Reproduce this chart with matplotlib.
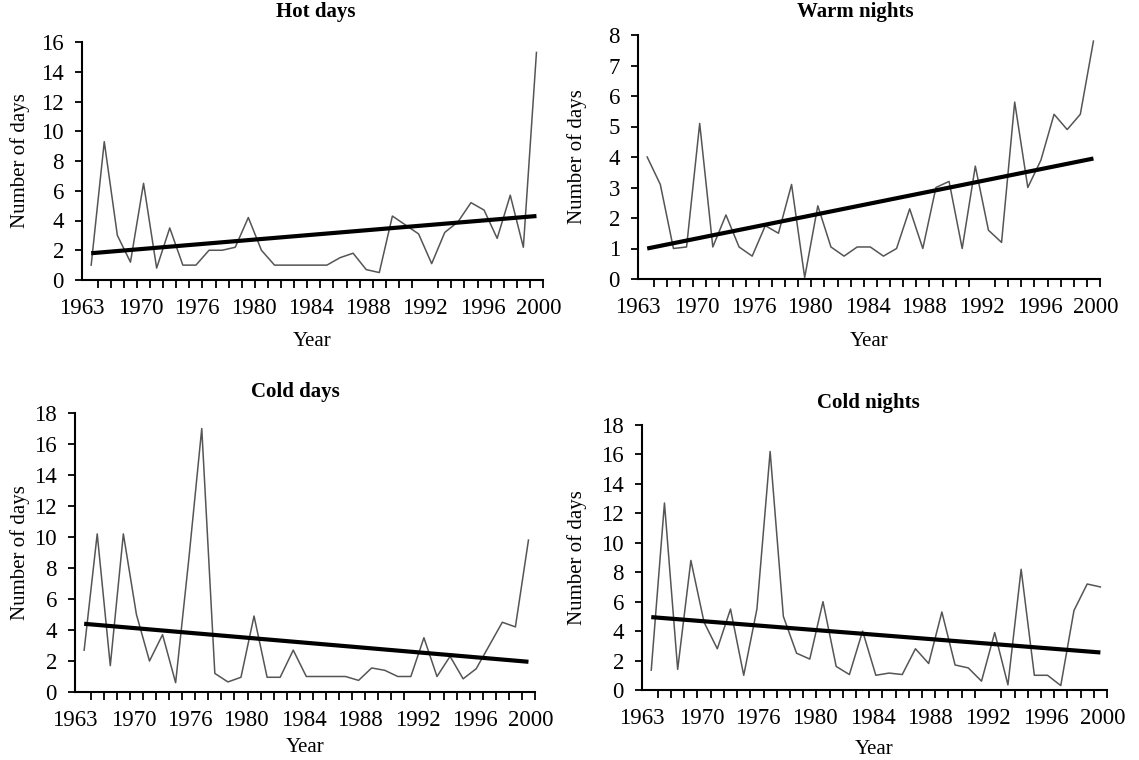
import numpy as np
import matplotlib
matplotlib.use("Agg")
import matplotlib.pyplot as plt

# annual counts (35 points per series)
hot_days = [1.0, 9.3, 3.0, 1.2, 6.5, 0.8, 3.5, 1.0, 1.0, 2.0, 2.0, 2.2, 4.2,
            2.0, 1.0, 1.0, 1.0, 1.0, 1.0, 1.5, 1.8, 0.7, 0.5, 4.3, 3.7, 3.1,
            1.1, 3.2, 3.9, 5.2, 4.7, 2.8, 5.7, 2.2, 15.3]
warm_nights = [4.0, 3.1, 1.0, 1.05, 5.1, 1.05, 2.1, 1.05, 0.75, 1.75, 1.5,
               3.1, 0.05, 2.4, 1.05, 0.75, 1.05, 1.05, 0.75, 1.0, 2.3, 1.0,
               3.0, 3.2, 1.0, 3.7, 1.6, 1.2, 5.8, 3.0, 3.9, 5.4, 4.9, 5.4, 7.8]
cold_days = [2.7, 10.2, 1.7, 10.2, 5.0, 2.0, 3.7, 0.6, 8.5, 17.0, 1.2, 0.65,
             0.95, 4.9, 0.95, 0.95, 2.7, 1.0, 1.0, 1.0, 1.0, 0.75, 1.55, 1.4,
             1.0, 1.0, 3.5, 1.0, 2.3, 0.85, 1.5, 3.0, 4.5, 4.2, 9.8]
cold_nights = [1.35, 12.7, 1.4, 8.8, 4.6, 2.8, 5.5, 1.0, 5.5, 16.2, 5.0, 2.5,
               2.1, 6.0, 1.6, 1.05, 4.0, 1.0, 1.15, 1.05, 2.8, 1.8, 5.3, 1.7,
               1.5, 0.6, 3.9, 0.35, 8.2, 1.0, 1.0, 0.3, 5.4, 7.2, 7.0]

# linear trend, first and last value
hot_trend = [1.8, 4.3]
warm_trend = [1.0, 3.95]
cold_days_trend = [4.4, 1.95]
cold_nights_trend = [4.95, 2.55]

year_labels = ["1963", "1970", "1976", "1980", "1984", "1988", "1992",
               "1996", "2000"]

W, H = 1139, 760
plt.rcParams["font.family"] = ["Liberation Serif", "DejaVu Serif"]
fig = plt.figure(figsize=(W / 100, H / 100), dpi=100)


def px_rect(x0, y0, x1, y1):
    return [x0 / W, 1 - y1 / H, (x1 - x0) / W, (y1 - y0) / H]


def fx(x):
    return x / W


def fy(y):
    return 1 - y / H


panels = [
    # title, values, trend, ymax, ystep, axes box, title pos, ylabel x, xlabel y
    ("Hot days", hot_days, hot_trend, 16, 2, (82, 42, 543, 280),
     (316, 12), 20, 342),
    ("Warm nights", warm_nights, warm_trend, 8, 1, (638, 35, 1100, 279),
     (855, 12), 577, 342),
    ("Cold days", cold_days, cold_days_trend, 18, 2, (75, 413, 535, 692),
     (295, 392), 20, 748),
    ("Cold nights", cold_nights, cold_nights_trend, 18, 2,
     (642, 425, 1107, 690), (868, 403), 577, 750),
]

label_pos = [-0.7, 3.8, 8.1, 12.4, 16.8, 21.1, 25.5, 29.9, 34.2]

for title, vals, trend, ymax, ystep, box, tpos, ylx, xly in panels:
    ax = fig.add_axes(px_rect(*box))
    x = np.arange(len(vals))
    ax.plot(x, vals, color="#555555", lw=1.1, zorder=2)
    ax.plot([x[0], x[-1]], trend, color="black", lw=3.0,
            solid_capstyle="butt", zorder=3)

    ax.set_xlim(-0.6, len(vals) - 0.5)
    ax.set_ylim(0, ymax)
    ax.set_yticks(np.arange(0, ymax + 0.1, ystep))
    ax.set_xticks(label_pos)
    ax.set_xticklabels(year_labels)
    ax.set_xticks(np.arange(0.5, len(vals), 1.0), minor=True)
    ax.tick_params(axis="x", which="major", length=0, pad=13, labelsize=16.5)
    ax.tick_params(axis="x", which="minor", length=6, width=1.3,
                   direction="out")
    ax.tick_params(axis="y", length=5, width=1.3, labelsize=16.5, pad=8)

    for side in ["top", "right"]:
        ax.spines[side].set_visible(False)
    for side in ["left", "bottom"]:
        ax.spines[side].set_linewidth(1.5)

    fig.text(fx(tpos[0]), fy(tpos[1]), title, ha="center", va="center",
             fontsize=15, fontweight="bold")
    cy = (box[1] + box[3]) / 2
    fig.text(fx(ylx), fy(cy), "Number of days", rotation=90, ha="center",
             va="center", fontsize=15)
    fig.text(fx((box[0] + box[2]) / 2), fy(xly), "Year", ha="center",
             va="center", fontsize=15)

fig.savefig("out.png", dpi=100)
